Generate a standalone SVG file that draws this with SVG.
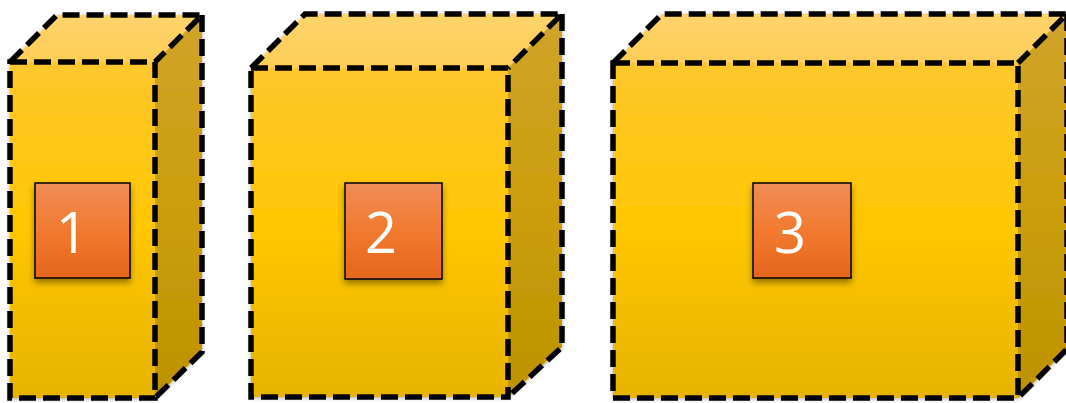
<svg xmlns="http://www.w3.org/2000/svg" width="1066" height="403" viewBox="0 0 1066 403">
<defs>
<linearGradient id="gFront" x1="0" y1="0" x2="0" y2="1">
<stop offset="0" stop-color="#FEC72E"/>
<stop offset="0.5" stop-color="#FFC700"/>
<stop offset="1" stop-color="#E6B300"/>
</linearGradient>
<linearGradient id="gTop" x1="0" y1="0" x2="0" y2="1">
<stop offset="0" stop-color="#FED46C"/>
<stop offset="1" stop-color="#FDCD56"/>
</linearGradient>
<linearGradient id="gSide" x1="0" y1="0" x2="0" y2="1">
<stop offset="0" stop-color="#D0A32C"/>
<stop offset="0.5" stop-color="#CC9E0C"/>
<stop offset="1" stop-color="#BC9200"/>
</linearGradient>
<linearGradient id="gSq" x1="0" y1="0" x2="0" y2="1">
<stop offset="0" stop-color="#F08D58"/>
<stop offset="0.5" stop-color="#F17A30"/>
<stop offset="1" stop-color="#E5661D"/>
</linearGradient>
<filter id="halo" x="-5%" y="-5%" width="110%" height="110%">
<feGaussianBlur in="SourceAlpha" stdDeviation="2"/>
<feOffset dx="0" dy="1"/>
<feComponentTransfer><feFuncA type="linear" slope="0.35"/></feComponentTransfer>
<feMerge><feMergeNode/><feMergeNode in="SourceGraphic"/></feMerge>
</filter>
<filter id="sqsh" x="-20%" y="-20%" width="140%" height="150%">
<feGaussianBlur in="SourceAlpha" stdDeviation="3"/>
<feOffset dx="0" dy="4"/>
<feComponentTransfer><feFuncA type="linear" slope="0.4"/></feComponentTransfer>
<feMerge><feMergeNode/><feMergeNode in="SourceGraphic"/></feMerge>
</filter>
</defs>
<style>
.front{fill:url(#gFront);}
.top{fill:url(#gTop);}
.side{fill:url(#gSide);}
.edge{fill:none;stroke:#000;stroke-width:5.5;stroke-dasharray:17 7;stroke-linejoin:miter;}
.sq{fill:url(#gSq);stroke:#000;stroke-width:1.5;}
.lbl{font-family:"Open Sans","Liberation Sans",sans-serif;font-size:56px;fill:#fff;text-anchor:middle;}
</style>
<rect width="1066" height="403" fill="#fff"/>

<g id="box1">
<g filter="url(#halo)">
<path class="top" d="M10,62 L57,15 L202,15 L155,62 Z"/>
<path class="side" d="M155,62 L202,15 L202,352 L155,398 Z"/>
<rect class="front" x="10" y="62" width="145" height="336"/>
</g>
<path class="edge" d="M10,62 L155,62 L155,398 L10,398 Z"/>
<path class="edge" d="M10,62 L57,15 L202,15 L155,62"/>
<path class="edge" d="M202,15 L202,352 L155,398"/>
<g filter="url(#sqsh)"><rect class="sq" x="35" y="183" width="95" height="95"/></g>
<text class="lbl" x="72" y="253">1</text>
</g>

<g id="box2">
<g filter="url(#halo)">
<path class="top" d="M251,68 L305,14 L562,14 L508,68 Z"/>
<path class="side" d="M508,68 L562,14 L562,347 L508,397 Z"/>
<rect class="front" x="251" y="68" width="257" height="329"/>
</g>
<path class="edge" d="M251,68 L508,68 L508,397 L251,397 Z"/>
<path class="edge" d="M251,68 L305,14 L562,14 L508,68"/>
<path class="edge" d="M562,14 L562,347 L508,397"/>
<g filter="url(#sqsh)"><rect class="sq" x="345" y="183" width="97" height="96"/></g>
<text class="lbl" x="381" y="253">2</text>
</g>

<g id="box3">
<g filter="url(#halo)">
<path class="top" d="M613,63 L662,14 L1067,14 L1018,63 Z"/>
<path class="side" d="M1018,63 L1067,14 L1067,349 L1018,398 Z"/>
<rect class="front" x="613" y="63" width="405" height="335"/>
</g>
<path class="edge" d="M613,63 L1018,63 L1018,398 L613,398 Z"/>
<path class="edge" d="M613,63 L662,14 L1067,14 L1018,63"/>
<path class="edge" d="M1067,14 L1067,349 L1018,398"/>
<g filter="url(#sqsh)"><rect class="sq" x="753" y="183" width="98" height="95"/></g>
<text class="lbl" x="790" y="253">3</text>
</g>

<g id="connectors"/>
</svg>
